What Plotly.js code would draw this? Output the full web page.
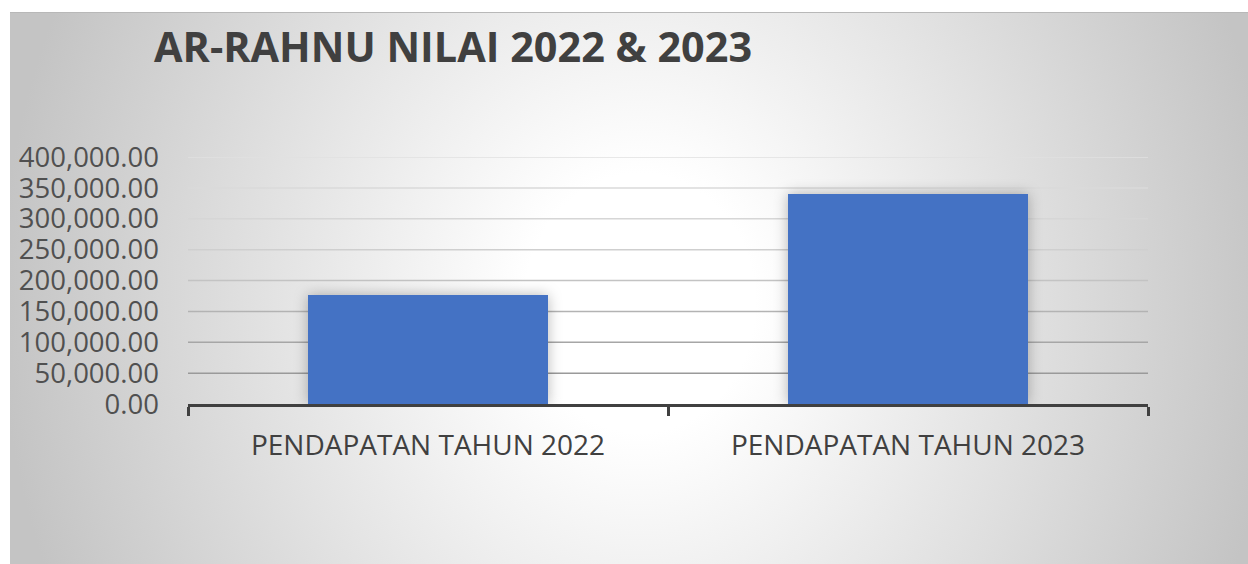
<!DOCTYPE html>
<html>
<head>
<meta charset="utf-8">
<script src="https://cdn.plot.ly/plotly-3.0.1.min.js"></script>
<style>
  html, body { margin: 0; padding: 0; background: #ffffff; }
  #frame {
    position: absolute; left: 10px; top: 12px; width: 1238px; height: 552px;
    background: radial-gradient(ellipse 640px 720px at 630px 290px, #ffffff 0%, #ffffff 18%, #c4c4c4 100%);
    border-top: 1px solid #b8b8b8;
    box-sizing: border-box;
  }
  #chart { position: absolute; left: 0; top: 0; width: 1248px; height: 564px; }
  .bars .point path { filter: drop-shadow(0 0 7px rgba(0,0,0,0.28)); }
</style>
</head>
<body>
<div id="frame"></div>
<div id="chart"></div>
<script>
const categories = ["PENDAPATAN TAHUN 2022", "PENDAPATAN TAHUN 2023"];
const values = [176500, 340000];
const yTicks = [0, 50000, 100000, 150000, 200000, 250000, 300000, 350000, 400000];
const chartTitle = "AR-RAHNU NILAI 2022 &amp; 2023";

// gridline shades, darker toward the bottom
const gridShades = ["#9a9a9a", "#9a9a9a", "#a6a6a6", "#b3b3b3", "#c3c3c3", "#cfcfcf", "#d6d6d6", "#dadada", "#e0e0e0"];

const shapes = yTicks.filter(v => v > 0).map((v) => ({
  type: "line", layer: "below",
  xref: "x domain", x0: 0, x1: 1,
  yref: "y", y0: v, y1: v,
  line: { color: gridShades[yTicks.indexOf(v)], width: 1.5 }
}));

const trace = {
  type: "bar",
  x: categories,
  y: values,
  marker: { color: "#4472C4", line: { width: 0 } },
  hoverinfo: "none"
};

const layout = {
  width: 1248, height: 564,
  paper_bgcolor: "rgba(0,0,0,0)",
  plot_bgcolor: "rgba(0,0,0,0)",
  margin: { l: 188, r: 100, t: 157, b: 160 },
  font: { family: "Open Sans, Noto Sans, sans-serif", color: "#404040" },
  title: {
    text: chartTitle,
    font: { family: "Open Sans, Noto Sans, sans-serif", size: 41.4, weight: 700, color: "#404040" },
    xref: "container", yref: "container",
    x: 154 / 1248, xanchor: "left",
    y: 1 - 48 / 564, yanchor: "middle"
  },
  bargap: 0.5,
  xaxis: {
    type: "category",
    showgrid: false, zeroline: false,
    showline: true, linecolor: "#404040", linewidth: 3,
    ticks: "outside", tickson: "boundaries", ticklen: 9, tickwidth: 3, tickcolor: "#404040",
    tickfont: { size: 28, color: "#404040" },
    ticklabelstandoff: 14,
    fixedrange: true
  },
  yaxis: {
    range: [0, 400000],
    tickvals: yTicks,
    tickformat: ",.2f",
    showgrid: false, zeroline: false, showline: false,
    ticks: "",
    tickfont: { size: 27.5, color: "#505050" },
    ticklabelstandoff: 28,
    fixedrange: true
  },
  shapes: shapes,
  showlegend: false
};

Plotly.newPlot("chart", [trace], layout, { displayModeBar: false, staticPlot: true });
</script>
</body>
</html>
